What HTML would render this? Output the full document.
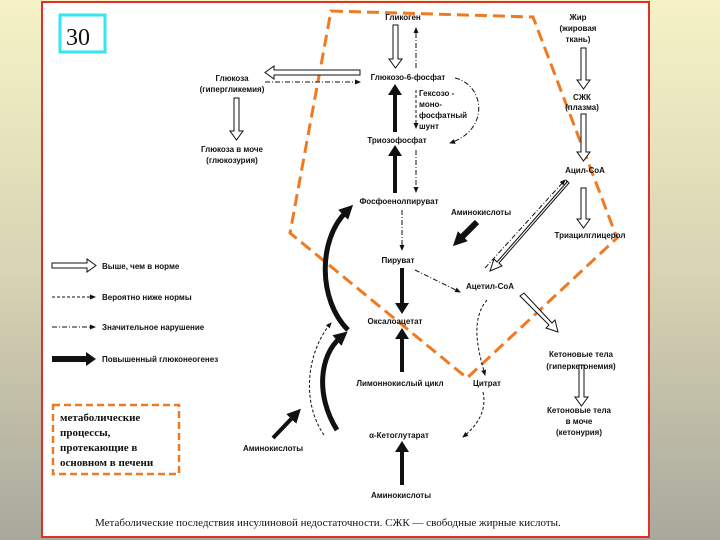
<!DOCTYPE html>
<html><head><meta charset="utf-8"><style>
html,body{margin:0;padding:0;width:720px;height:540px;overflow:hidden}
body{background:linear-gradient(#f6f2c6,#d8d4b4 50%,#a9a89c)}
svg{position:absolute;left:0;top:0}
text{font-family:"Liberation Sans",sans-serif;font-size:8px;fill:#111;font-weight:bold}
.s{font-family:"Liberation Serif",serif}
</style></head><body>
<svg width="720" height="540" viewBox="0 0 720 540">
<defs>
<marker id="a" markerWidth="16" markerHeight="14" refX="4" refY="7" orient="auto" markerUnits="userSpaceOnUse"><path d="M0,0L14,7L0,14z" fill="#111"/></marker>
<marker id="t" markerWidth="6" markerHeight="5" refX="5" refY="2.5" orient="auto" markerUnits="userSpaceOnUse"><path d="M0,0L6,2.5L0,5z" fill="#111"/></marker>
</defs>
<rect x="42" y="2" width="607" height="535" fill="#fff" stroke="#e0302a" stroke-width="2"/>
<rect x="60" y="15" width="45" height="37" fill="#fff" stroke="#33e6f2" stroke-width="3"/>
<text x="66" y="45" class="s" style="font-size:24px;font-weight:normal">30</text>

<polygon points="331,11 533,17 617,238 467,378 290,233" fill="none" stroke="#f07a22" stroke-width="3" stroke-dasharray="12,6"/>

<g stroke="#111" fill="#fff" stroke-width="1">
<path d="M393,25h5v34h4l-6.5,9l-6.5,-9h4z"/>
<path d="M234,98h5v33h4l-6.5,9l-6.5,-9h4z"/>
<path d="M581,48h5v32h4l-6.5,9l-6.5,-9h4z"/>
<path d="M581,114h5v38h4l-6.5,9l-6.5,-9h4z"/>
<path d="M581,188h5v31h4l-6.5,9l-6.5,-9h4z"/>
<path d="M579,365h5v32h4l-6.5,9l-6.5,-9h4z"/>
<path d="M360,70v5h-86v4l-9,-6.5l9,-6.5v4z"/>
<path d="M52,263h35v-4l9,6.5l-9,6.5v-4h-35z"/>
<path d="M566,180l3,3l-70,80l3,3l-12,5l4,-12l3,3l70,-80z"/>
<path d="M520,296l4,-3l28,30l3,-3l3,12l-12,-4l3,-3z"/>
</g>
<g stroke="#111" fill="none" stroke-width="1" marker-end="url(#t)">
<path d="M416,68V28" stroke-dasharray="5,2,1,2"/>
<path d="M265,82H360" stroke-dasharray="5,2,1,2"/>
<path d="M416,90V128" stroke-dasharray="3,2"/>
<path d="M455,78C485,85 490,130 450,143" stroke-dasharray="5,2,1,2"/>
<path d="M416,150V192" stroke-dasharray="5,2,1,2"/>
<path d="M402,210V250" stroke-dasharray="5,2,1,2"/>
<path d="M485,268L565,180" stroke-dasharray="5,2,1,2"/>
<path d="M415,270L460,292" stroke-dasharray="5,2,1,2"/>
<path d="M487,300C470,320 478,350 485,375" stroke-dasharray="3,2"/>
<path d="M483,392C487,410 478,425 463,437" stroke-dasharray="3,2"/>
<path d="M324,435C300,400 308,350 331,323" stroke-dasharray="3,2"/>
<path d="M52,297H95" stroke-dasharray="3,2"/>
<path d="M52,327H95" stroke-dasharray="5,2,1,2"/>
</g>
<g stroke="#111" fill="none" stroke-width="4">
<path d="M395,132V94"/>
<path d="M395,193V155"/>
<path d="M402,268V304"/>
<path d="M402,372V338"/>
<path d="M402,485V452"/>
<path d="M348,330C318,300 318,240 346,212" stroke-width="5" marker-end="url(#a)"/>
<path d="M337,430C315,395 320,355 340,338" stroke-width="5" marker-end="url(#a)"/>
<path d="M477,222L460,239" stroke-width="6" marker-end="url(#a)"/>
<path d="M273,438L294,416" stroke-width="4" marker-end="url(#a)"/>
<path d="M52,359H86" stroke-width="6"/>
</g>
<g fill="#111">
<path d="M388,95l7,-11l7,11z"/><path d="M388,156l7,-11l7,11z"/>
<path d="M395,303l7,11l7,-11z"/><path d="M395,339l7,-11l7,11z"/>
<path d="M395,452l7,-11l7,11z"/><path d="M86,352l10,7l-10,7z"/>
</g>

<g text-anchor="middle">
<text x="403" y="20">Гликоген</text>
<text x="408" y="80">Глюкозо-6-фосфат</text>
<text x="397" y="143">Триозофосфат</text>
<text x="399" y="204">Фосфоенолпируват</text>
<text x="481" y="215">Аминокислоты</text>
<text x="398" y="263">Пируват</text>
<text x="490" y="289">Ацетил-СоА</text>
<text x="395" y="324">Оксалоацетат</text>
<text x="400" y="386">Лимоннокислый цикл</text>
<text x="487" y="386">Цитрат</text>
<text x="399" y="438">α-Кетоглутарат</text>
<text x="401" y="498">Аминокислоты</text>
<text x="273" y="451">Аминокислоты</text>
<text x="578" y="20">Жир</text><text x="578" y="31">(жировая</text><text x="578" y="42">ткань)</text>
<text x="582" y="100">СЖК</text><text x="582" y="110">(плазма)</text>
<text x="585" y="173">Ацил-СоА</text>
<text x="590" y="238">Триацилглицерол</text>
<text x="581" y="357">Кетоновые тела</text><text x="581" y="369">(гиперкетонемия)</text>
<text x="579" y="413">Кетоновые тела</text><text x="579" y="424">в моче</text><text x="579" y="435">(кетонурия)</text>
<text x="232" y="81">Глюкоза</text><text x="232" y="92">(гипергликемия)</text>
<text x="232" y="152">Глюкоза в моче</text><text x="232" y="163">(глюкозурия)</text>
</g>
<text x="419" y="96">Гексозо -</text><text x="419" y="107">моно-</text><text x="419" y="118">фосфатный</text><text x="419" y="129">шунт</text>
<text x="102" y="269">Выше, чем в норме</text>
<text x="102" y="300">Вероятно ниже нормы</text>
<text x="102" y="330">Значительное нарушение</text>
<text x="102" y="362">Повышенный глюконеогенез</text>

<rect x="53" y="405" width="126" height="69" fill="none" stroke="#f07a22" stroke-width="2.5" stroke-dasharray="7,4"/>
<text x="60" y="421" class="s" style="font-size:11px">метаболические</text>
<text x="60" y="436" class="s" style="font-size:11px">процессы,</text>
<text x="60" y="451" class="s" style="font-size:11px">протекающие в</text>
<text x="60" y="466" class="s" style="font-size:11px">основном в печени</text>
<text x="95" y="526" class="s" style="font-size:11px;font-weight:normal">Метаболические последствия инсулиновой недостаточности. СЖК — свободные жирные кислоты.</text>
</svg>
</body></html>
